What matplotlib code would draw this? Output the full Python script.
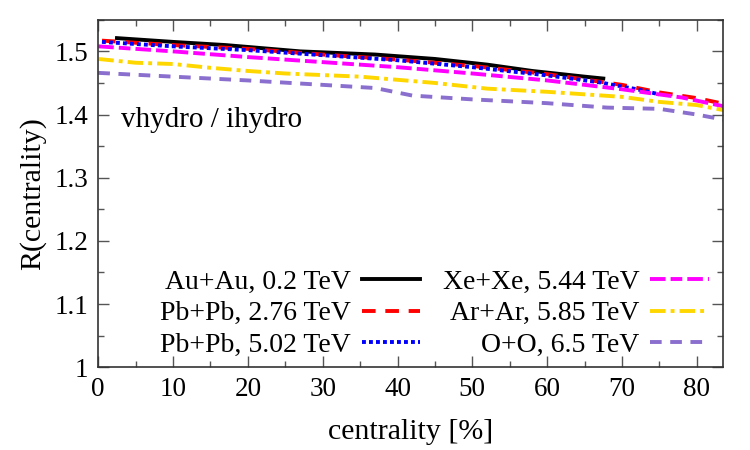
import matplotlib
matplotlib.use("Agg")
import matplotlib.pyplot as plt
from matplotlib.ticker import MultipleLocator

plt.rcParams['font.family'] = ['Liberation Serif', 'DejaVu Serif']

# Data (centrality %, ratio)
auau_x = [2.5, 10, 17, 27, 37, 45, 52, 58, 65, 67.5]
auau_y = [1.521, 1.515, 1.510, 1.500, 1.495, 1.488, 1.479, 1.469, 1.460, 1.457]

pb276_x = [0.5, 10, 20, 30, 40, 50, 60, 70, 75, 80, 84]
pb276_y = [1.517, 1.510, 1.504, 1.495, 1.487, 1.477, 1.464, 1.447, 1.435, 1.426, 1.416]

pb502_x = [0.5, 10, 20, 30, 40, 50, 60, 67, 72, 75]
pb502_y = [1.515, 1.508, 1.502, 1.494, 1.486, 1.475, 1.462, 1.451, 1.440, 1.432]

xexe_x = [0, 10, 20, 30, 40, 50, 60, 70, 78, 84]
xexe_y = [1.508, 1.500, 1.491, 1.483, 1.475, 1.465, 1.454, 1.440, 1.427, 1.412]

arar_x = [0, 5, 10, 15, 20, 25, 35, 45, 52, 60, 70, 75, 80, 84]
arar_y = [1.488, 1.482, 1.480, 1.474, 1.469, 1.465, 1.460, 1.450, 1.441, 1.436, 1.428, 1.420, 1.415, 1.406]

oo_x = [0, 10, 20, 30, 37, 42, 50, 60, 68, 75, 80, 84]
oo_y = [1.466, 1.460, 1.454, 1.447, 1.442, 1.430, 1.424, 1.418, 1.411, 1.409, 1.400, 1.391]

labels = ["Au+Au, 0.2 TeV", "Pb+Pb, 2.76 TeV", "Pb+Pb, 5.02 TeV",
          "Xe+Xe, 5.44 TeV", "Ar+Ar, 5.85 TeV", "O+O, 6.5 TeV"]

fig = plt.figure(figsize=(7.5, 4.5), dpi=100)
ax = fig.add_axes([0.131, 0.184, 0.833, 0.772])

lw = 2.8
ax.plot(auau_x, auau_y, color='black', lw=lw, ls='-', label=labels[0])
ax.plot(pb276_x, pb276_y, color='#ff0000', lw=lw, ls=(0, (3.5, 2.5)), label=labels[1])
ax.plot(pb502_x, pb502_y, color='#0000ff', lw=lw, ls=(0, (1, 0.8)), label=labels[2])
ax.plot(xexe_x, xexe_y, color='#ff00ff', lw=lw, ls=(0, (4, 1.3, 3, 1.3)), label=labels[3])
ax.plot(arar_x, arar_y, color='#ffd700', lw=lw, ls=(0, (4, 1.3, 1, 1.3)), label=labels[4])
ax.plot(oo_x, oo_y, color='#8a6fcf', lw=lw, ls=(0, (3, 2.2)), label=labels[5])

ax.set_xlim(0, 83.5)
ax.set_ylim(1.0, 1.55)
ax.xaxis.set_major_locator(MultipleLocator(10))
ax.xaxis.set_minor_locator(MultipleLocator(5))
ax.yaxis.set_minor_locator(MultipleLocator(0.05))
ax.set_yticks([1.0, 1.1, 1.2, 1.3, 1.4, 1.5])
ax.set_yticklabels(['1', '1.1', '1.2', '1.3', '1.4', '1.5'])
ax.tick_params(which='both', direction='in', top=True, right=True,
               labelsize=19.5, color='#555555', pad=7)
ax.tick_params(which='major', length=8, width=1)
ax.tick_params(which='minor', length=4, width=1)
for s in ax.spines.values():
    s.set_color('#333333')
    s.set_linewidth(1.2)

ax.set_xlabel('centrality [%]', fontsize=21.5, labelpad=12)
ax.set_ylabel('R(centrality)', fontsize=21.5, labelpad=6)

ax.text(3, 1.38, 'vhydro / ihydro', fontsize=21)

ax.legend(loc='lower right', ncol=2, markerfirst=False, frameon=False,
          fontsize=20, handlelength=2.1, columnspacing=0.8, labelspacing=0.22,
          handletextpad=0.4, borderaxespad=0.0, bbox_to_anchor=(0.995, -0.005))

fig.savefig('out.png', dpi=100)
